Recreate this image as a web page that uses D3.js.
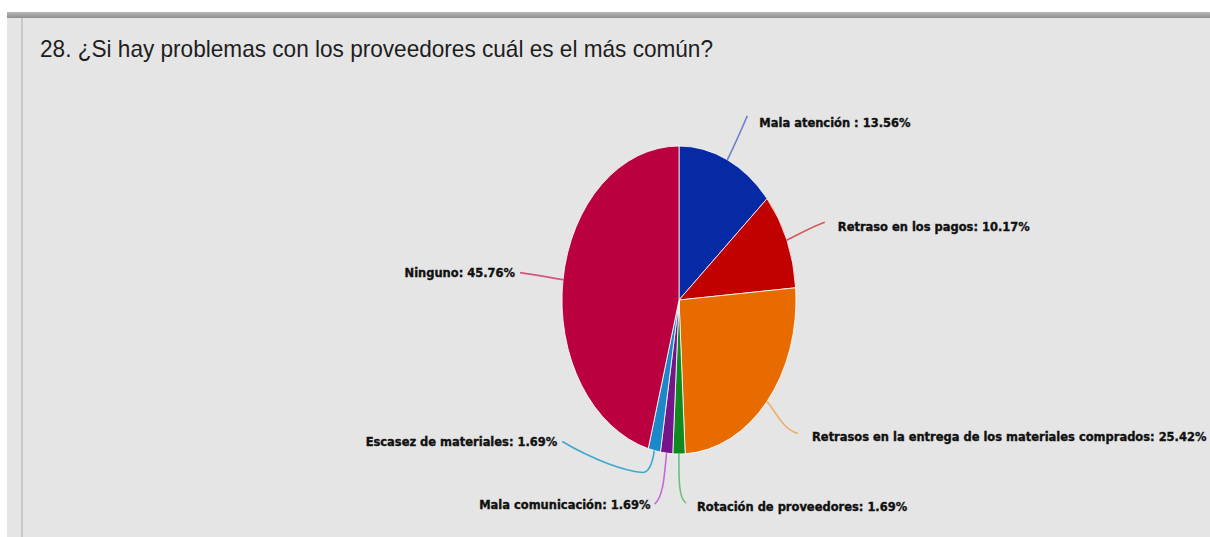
<!DOCTYPE html>
<html>
<head>
<meta charset="utf-8">
<script src="https://cdn.jsdelivr.net/npm/d3@7"></script>
<style>
  html, body { margin: 0; padding: 0; background: #fff; }
  svg { display: block; }
</style>
</head>
<body>
<svg id="chart" width="1210" height="537"></svg>
<script>
// datos del grafico
var categorias = ['Mala atención', 'Retraso en los pagos', 'Retrasos en la entrega de los materiales comprados',
                  'Rotación de proveedores', 'Mala comunicación', 'Escasez de materiales', 'Ninguno'];
var valores = [13.56, 10.17, 25.42, 1.69, 1.69, 1.69, 45.76];
var etiquetas = ['Mala atención : 13.56%', 'Retraso en los pagos: 10.17%',
                 'Retrasos en la entrega de los materiales comprados: 25.42%',
                 'Rotación de proveedores: 1.69%', 'Mala comunicación: 1.69%',
                 'Escasez de materiales: 1.69%', 'Ninguno: 45.76%'];
var colores = ['#0629a6', '#c10000', '#e86b00', '#0f8a1e', '#76148a', '#1c87c9', '#bb0040'];
var coloresLinea = ['#6a7fd0', '#d35a5a', '#eab06a', '#6cc07a', '#c46ad8', '#3fa9cc', '#d4557e'];
var titulo = '28. ¿Si hay problemas con los proveedores cuál es el más común?';

// layout de las lineas guia (offsets desde el borde del sector): c1, c2, fin, texto
var guias = [
  { c1: [6, -12], c2: [14, -30], fin: [20, -44], txt: [12, 11], anchor: 'start' },
  { c1: [12, -6], c2: [26, -14], fin: [38, -18], txt: [13, 9], anchor: 'start' },
  { c1: [10, 12], c2: [16, 28], fin: [31, 32], txt: [14, 8], anchor: 'start' },
  { c1: [0, 20], c2: [-1, 44], fin: [7, 49], txt: [11, 8], anchor: 'start' },
  { c1: [-2, 20], c2: [-3, 44], fin: [-12, 51], txt: [-4, 5], anchor: 'end' },
  { c1: [-2, 14], c2: [-6, 22], fin: [-92, -9], txt: [-5, 4], anchor: 'end', c1b: [-30, 20] },
  { c1: [-14, -2], c2: [-28, -5], fin: [-43, -7], txt: [-5, 4], anchor: 'end' }
];

var svg = d3.select('#chart');
var W = 1210, H = 537;

// fondo
svg.append('rect').attr('width', W).attr('height', H).attr('fill', '#fff');
svg.append('rect').attr('x', 7).attr('y', 12).attr('width', W - 7).attr('height', H - 12).attr('fill', '#e5e5e5');
var grad = svg.append('defs').append('linearGradient').attr('id', 'barra').attr('x1', 0).attr('x2', 0).attr('y1', 0).attr('y2', 1);
grad.append('stop').attr('offset', '0%').attr('stop-color', '#b8b8b8');
grad.append('stop').attr('offset', '100%').attr('stop-color', '#8e8e8e');
svg.append('rect').attr('x', 7).attr('y', 12).attr('width', W - 7).attr('height', 6).attr('fill', 'url(#barra)');
svg.append('rect').attr('x', 21).attr('y', 18).attr('width', 2).attr('height', H - 18).attr('fill', '#c8c8c8');

svg.append('text')
  .attr('x', 40).attr('y', 57)
  .attr('font-family', '"Liberation Sans Narrow", "Arial Narrow", sans-serif')
  .attr('font-size', 24)
  .attr('textLength', 673)
  .attr('lengthAdjust', 'spacingAndGlyphs')
  .attr('fill', '#1e1e1e')
  .text(titulo);

// pastel (elipse: circulo escalado en x)
var cx = 679, cy = 300, ry = 154, rx = 117;
var pie = d3.pie().sort(null).value(d => d)(valores);
var arc = d3.arc().innerRadius(0).outerRadius(ry);

var g = svg.append('g').attr('transform', 'translate(' + cx + ',' + cy + ') scale(' + (rx / ry) + ',1)');
g.selectAll('path')
  .data(pie)
  .enter().append('path')
  .attr('d', arc)
  .attr('fill', (d, i) => colores[i])
  .attr('stroke', 'rgba(255,255,255,0.8)')
  .attr('stroke-width', 1)
  .attr('vector-effect', 'non-scaling-stroke');

// lineas guia y etiquetas
function borde(d) {
  var a = (d.startAngle + d.endAngle) / 2;
  return [cx + rx * Math.sin(a), cy - ry * Math.cos(a)];
}

var lab = svg.append('g');
pie.forEach(function (d, i) {
  var p = borde(d), gl = guias[i];
  var pt = o => (p[0] + o[0]) + ',' + (p[1] + o[1]);
  var path;
  if (gl.c1b) {
    path = 'M' + pt([0, 0]) + ' C' + pt(gl.c1) + ' ' + pt(gl.c2) + ' ' + pt([-12, 22]) +
           ' C' + pt(gl.c1b) + ' ' + pt([-60, 10]) + ' ' + pt(gl.fin);
  } else {
    path = 'M' + pt([0, 0]) + ' C' + pt(gl.c1) + ' ' + pt(gl.c2) + ' ' + pt(gl.fin);
  }
  lab.append('path')
    .attr('d', path)
    .attr('fill', 'none')
    .attr('stroke', coloresLinea[i])
    .attr('stroke-width', 1.6);
  lab.append('text')
    .attr('x', p[0] + gl.fin[0] + gl.txt[0])
    .attr('y', p[1] + gl.fin[1] + gl.txt[1])
    .attr('text-anchor', gl.anchor)
    .attr('font-family', '"DejaVu Sans Condensed", "DejaVu Sans", sans-serif')
    .attr('font-stretch', 'condensed')
    .attr('font-weight', 'bold')
    .attr('font-size', 12.75)
    .attr('fill', '#111')
    .attr('stroke', '#111')
    .attr('stroke-width', 0.35)
    .text(etiquetas[i]);
});
</script>
</body>
</html>
